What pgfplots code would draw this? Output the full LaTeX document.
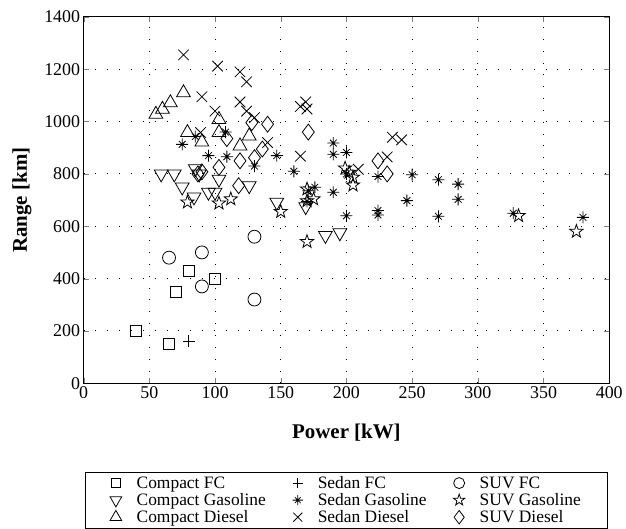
\documentclass[border=0pt]{standalone}
\usepackage{fontspec}
\setmainfont{Liberation Serif}
\usepackage{pgfplots}
\pgfplotsset{compat=1.18}

% matlab-like markers
\pgfdeclareplotmark{star8}{%
  \pgfpathmoveto{\pgfqpoint{-\pgfplotmarksize}{0pt}}\pgfpathlineto{\pgfqpoint{\pgfplotmarksize}{0pt}}%
  \pgfpathmoveto{\pgfqpoint{0pt}{-\pgfplotmarksize}}\pgfpathlineto{\pgfqpoint{0pt}{\pgfplotmarksize}}%
  \pgfpathmoveto{\pgfpointpolar{45}{0.8\pgfplotmarksize}}\pgfpathlineto{\pgfpointpolar{225}{0.8\pgfplotmarksize}}%
  \pgfpathmoveto{\pgfpointpolar{135}{0.8\pgfplotmarksize}}\pgfpathlineto{\pgfpointpolar{315}{0.8\pgfplotmarksize}}%
  \pgfusepathqstroke}
\pgfdeclareplotmark{pentagram}{%
  \pgfpathmoveto{\pgfpointpolar{90}{\pgfplotmarksize}}%
  \pgfpathlineto{\pgfpointpolar{126}{0.4\pgfplotmarksize}}%
  \pgfpathlineto{\pgfpointpolar{162}{\pgfplotmarksize}}%
  \pgfpathlineto{\pgfpointpolar{198}{0.4\pgfplotmarksize}}%
  \pgfpathlineto{\pgfpointpolar{234}{\pgfplotmarksize}}%
  \pgfpathlineto{\pgfpointpolar{270}{0.4\pgfplotmarksize}}%
  \pgfpathlineto{\pgfpointpolar{306}{\pgfplotmarksize}}%
  \pgfpathlineto{\pgfpointpolar{342}{0.4\pgfplotmarksize}}%
  \pgfpathlineto{\pgfpointpolar{18}{\pgfplotmarksize}}%
  \pgfpathlineto{\pgfpointpolar{54}{0.4\pgfplotmarksize}}%
  \pgfpathclose\pgfusepathqstroke}

\begin{document}
\begin{tikzpicture}
\begin{axis}[
  scale only axis,
  width=528pt, height=368pt,
  xmin=0, xmax=400, ymin=0, ymax=1400,
  xtick={0,50,...,400}, ytick={0,200,...,1400},
  tick align=inside, major tick length=5pt,
  axis line style={line width=1.1pt},
  grid=major,
  grid style={black, line width=0.9pt, dash pattern=on 0.9pt off 11pt},
  tick label style={font=\fontsize{18}{18}\selectfont},
  /pgf/number format/assume math mode=true,
  /pgf/number format/1000 sep={},
  xlabel={\textbf{Power [kW]}},
  ylabel={\textbf{Range [km]}},
  label style={font=\fontsize{21}{21}\selectfont},
  xlabel style={at={([yshift=-50pt]axis description cs:0.5,0)}, anchor=center},
  ylabel style={at={([xshift=-62pt]axis description cs:0,0.5)}, anchor=center},
  legend columns=3,
  legend cell align=left,
  legend style={at={(0.5,-0.2418)}, anchor=north, draw=black, line width=0.9pt,
    font=\fontsize{17.5}{17.5}\selectfont, row sep=1.5pt, inner xsep=25pt, inner ysep=3pt,
    nodes={inner ysep=1pt},
    /tikz/every odd column/.append style={column sep=13pt},
    /tikz/every even column/.append style={column sep=25pt}},
  legend image post style={scale=0.85},
]
% row 1 of the legend
\addplot[only marks, black, line width=0.8pt, mark=square, mark size=5.5pt] coordinates {
  (40,200) (65,150) (70,350) (80,430) (100,400)};
\addplot[only marks, black, line width=0.8pt, mark=+, mark size=6pt] coordinates {(80,160)};
\addplot[only marks, black, line width=0.8pt, mark=o, mark size=6.5pt] coordinates {
  (65,480) (90,500) (90,370) (130,560) (130,320)};
% row 2
\addplot[only marks, black, line width=0.8pt, mark=triangle, mark size=8pt, mark options={rotate=180}] coordinates {
  (59,800) (69,800) (85,820) (88,800) (103,780) (75,750) (84,712) (95,730)
  (100,730) (126,755) (147,692) (169,675) (184,565) (195,575)};
\addplot[only marks, black, line width=0.8pt, mark=star8, mark size=6pt] coordinates {
  (75,913) (85,943) (95,870) (109,866) (108,960) (130,830) (147,870) (160,810)
  (171,736) (176,749) (170,695) (190,918) (190,875) (200,882) (200,800) (190,730)
  (200,640) (224,790) (224,660) (224,643) (250,797) (246,698) (270,778) (285,761)
  (285,703) (270,638) (327,650) (380,634)};
\addplot[only marks, black, line width=0.8pt, mark=pentagram, mark size=7pt] coordinates {
  (79,692) (103,688) (112,704) (150,656) (170,742) (170,697) (175,704) (170,541)
  (199,822) (202,806) (205,787) (205,757) (331,640) (375,580)};
% row 3
\addplot[only marks, black, line width=0.8pt, mark=triangle, mark size=8pt] coordinates {
  (55,1028) (60,1047) (66,1072) (76,1110) (79,958) (90,922) (103,1008)
  (103,958) (119,907) (126,945)};
\addplot[only marks, black, line width=0.8pt, mark=x, mark size=7.5pt] coordinates {
  (76,1255) (102,1212) (119,1190) (124,1152) (90,1095) (119,1075) (100,1040)
  (124,1040) (130,1015) (89,958) (140,920) (165,868) (165,1058) (169,1075)
  (170,1048) (209,818) (235,940) (242,930) (231,865)};
\addplot[only marks, black, line width=0.8pt, mark=diamond, mark size=8pt] coordinates {
  (128,996) (140,990) (109,935) (136,895) (130,862) (119,850) (103,825)
  (87,800) (90,808) (118,755) (171,960) (224,850) (231,800)};
\legend{Compact FC, Sedan FC, SUV FC,
  Compact Gasoline, Sedan Gasoline, SUV Gasoline,
  Compact Diesel, Sedan Diesel, SUV Diesel}
\end{axis}
% page margins as in the reference
\path ([xshift=-84pt,yshift=17pt]current axis.north west)
      ([xshift=14pt]current axis.south east);
\end{tikzpicture}
\end{document}
